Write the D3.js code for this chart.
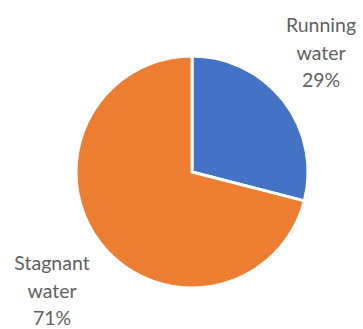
<!DOCTYPE html>
<html>
<head>
<meta charset="utf-8">
<script src="https://cdn.jsdelivr.net/npm/d3@7"></script>
<style>
  html, body { margin: 0; padding: 0; background: #fff; }
  svg { display: block; }
</style>
</head>
<body>
<div id="chart"></div>
<script>
const categories = ["Running water", "Stagnant water"];
const values = [29, 71];
const colors = ["#4472C4", "#ED7D31"];

const width = 363, height = 329;
const cx = 192, cy = 172, radius = 116;

// where each data label block is centred (first line baseline)
const labelAt = [
    { x: 321, y: 32 },
    { x: 52, y: 270 }
];

const svg = d3.select("#chart").append("svg")
    .attr("width", width)
    .attr("height", height);

const g = svg.append("g")
    .attr("transform", "translate(" + cx + "," + cy + ")");

const pie = d3.pie().sort(null).value(d => d.value);
const arc = d3.arc().innerRadius(0).outerRadius(radius);

const data = pie(categories.map((c, i) => ({ name: c, value: values[i] })));
const total = d3.sum(values);

g.selectAll("path.slice")
    .data(data)
    .enter().append("path")
    .attr("class", "slice")
    .attr("d", arc)
    .attr("fill", (d, i) => colors[i])
    .attr("stroke", "#fff")
    .attr("stroke-width", 3)
    .attr("stroke-linejoin", "round");

const labels = svg.selectAll("text.lbl")
    .data(data)
    .enter().append("text")
    .attr("class", "lbl")
    .attr("text-anchor", "middle")
    .attr("font-family", "Lato, 'Open Sans', sans-serif")
    .attr("font-size", 19.5)
    .attr("fill", "#616161");

labels.each(function (d, i) {
    const words = d.data.name.split(" ");
    const lines = words.concat([Math.round(d.data.value / total * 100) + "%"]);
    const t = d3.select(this);
    lines.forEach((ln, k) => {
        t.append("tspan")
            .attr("x", labelAt[i].x)
            .attr("y", labelAt[i].y + k * 27.5)
            .text(ln);
    });
});
</script>
</body>
</html>
